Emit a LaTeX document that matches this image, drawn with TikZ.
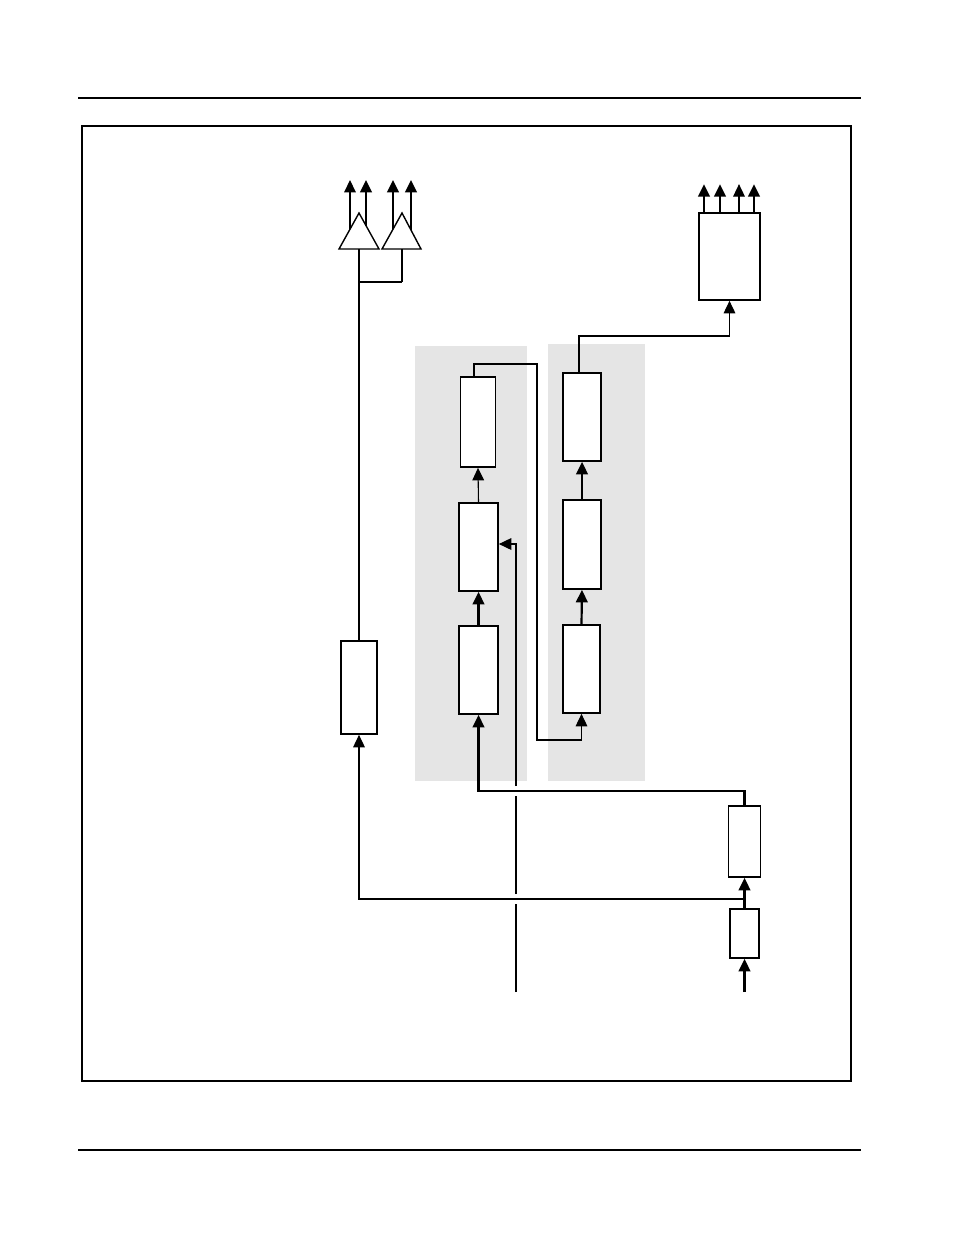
\documentclass[tikz,border=0pt]{standalone}
\usepackage{tikz}
\usetikzlibrary{arrows.meta,calc,positioning}

\newcommand\px{0.6415pt}

\begin{document}
\begin{tikzpicture}[x=0.6415pt,y=-0.6415pt,
  blk/.style 2 args={draw,line width=1.1pt,fill=white,inner sep=0pt,
    minimum width=#1*\px,minimum height=#2*\px},
  thinln/.style={line width=0.7pt},
  thickln/.style={line width=1.4pt},
  arr/.style={-{Triangle[width=7.5pt,length=8pt]}},
  panel/.style={fill=black!10}]
  \useasboundingbox (0,0) rectangle (954,1235);

  % page rules and frame
  \draw[thinln] (78,98) -- (861,98);
  \draw[thinln] (78,1150) -- (861,1150);
  \draw[thinln] (82,126) rectangle (851,1081);

  % shaded panels
  \fill[panel] (415,346) rectangle (527,781);
  \fill[panel] (548,344) rectangle (645,781);

  % blocks
  \node[blk={36}{93}] (drv) at (359,687.5) {};
  \node[blk={61}{87}] (out) at (729.5,256.5) {};
  \node[blk={35}{90}] (L1) at (478,422) {};
  \node[blk={39}{88}] (L2) at (478.5,547) {};
  \node[blk={39}{88}] (L3) at (478.5,670) {};
  \node[blk={38}{88}] (R1) at (582,417) {};
  \node[blk={38}{89}] (R2) at (582,544.5) {};
  \node[blk={37}{88}] (R3) at (581.5,669) {};
  \node[blk={32}{71}] (B1) at (744.5,841.5) {};
  \node[blk={29}{49}] (B2) at (744.5,933.5) {};

  % amplifiers
  \coordinate (amp1l) at (339,249);
  \coordinate (amp1r) at (379,249);
  \coordinate (amp1t) at (359,213);
  \coordinate (amp1b) at (359,249);
  \coordinate (amp2l) at (382,249);
  \coordinate (amp2r) at (421,249);
  \coordinate (amp2t) at (402,213);
  \coordinate (amp2b) at (402,249);
  \draw[line width=0.9pt,fill=white] (amp1l) -- (amp1r) -- (amp1t) -- cycle;
  \draw[line width=0.9pt,fill=white] (amp2l) -- (amp2r) -- (amp2t) -- cycle;

  \coordinate (otop) at (0,180);
  \coordinate (o1) at ($(amp1l)!0.55!(amp1t)$);
  \coordinate (o2) at ($(amp1r)!0.65!(amp1t)$);
  \coordinate (o3) at ($(amp2l)!0.55!(amp2t)$);
  \coordinate (o4) at ($(amp2r)!0.526!(amp2t)$);
  \draw[thinln,arr] (o1) -- (o1 |- otop);
  \draw[thickln,arr] (o2) -- (o2 |- otop);
  \draw[thickln,arr] (o3) -- (o3 |- otop);
  \draw[thickln,arr] (o4) -- (o4 |- otop);

  \coordinate (fork) at (359,282);
  \draw[thinln] (drv.north) -- (fork) -- (amp1b);
  \draw[thickln] (fork) -- (fork -| amp2b);
  \draw[thinln] (fork -| amp2b) -- (amp2b);

  % outputs of the top right block
  \foreach \dx/\w in {-25.5/thickln,-9.5/thickln,9.5/thinln,24.5/thickln}
    \draw[\w,arr] ($(out.north)+(\dx,0)$) -- ++(0,-28);

  % input chain
  \coordinate (in) at (744.5,992);
  \coordinate (tap) at (744.5,899);
  \coordinate (bus) at (0,791);
  \draw[thickln,arr] (in) -- (B2.south);
  \draw[thickln,arr] (B2.north) -- (B1.south);
  \draw[thinln,arr] (tap) -| (drv.south);
  \draw[thickln,arr] (B1.north) -- (B1.north |- bus) -| (L3.south);

  % left panel
  \draw[thickln,arr] (L3.north) -- (L2.south);
  \draw[thinln,arr] (L2.north) -- (L1.south);
  \coordinate (l1o) at ($(L1.north)+(-4,0)$);
  \coordinate (lk1) at (537,364);
  \coordinate (lk2) at (537,740);
  \draw[thinln,arr] (l1o) |- (lk1) -- (lk2) -| (R3.south);

  % right panel
  \draw[thickln,arr] (R3.north) -- (R2.south);
  \draw[thickln,arr] (R2.north) -- (R1.south);
  \coordinate (r1o) at ($(R1.north)+(-3,0)$);
  \coordinate (rk) at (729.5,336);
  \draw[thinln,arr] (r1o) |- (rk) -- (out.south);

  % control line, broken where it crosses
  \coordinate (c0) at (516,992);
  \coordinate (c1) at (516,544);
  \draw[thinln] (c0) -- (516,904);
  \draw[thinln] (516,894) -- (516,796);
  \draw[thinln,arr] (516,786) -- (c1) -- (c1 -| L2.east);
\end{tikzpicture}
\end{document}
